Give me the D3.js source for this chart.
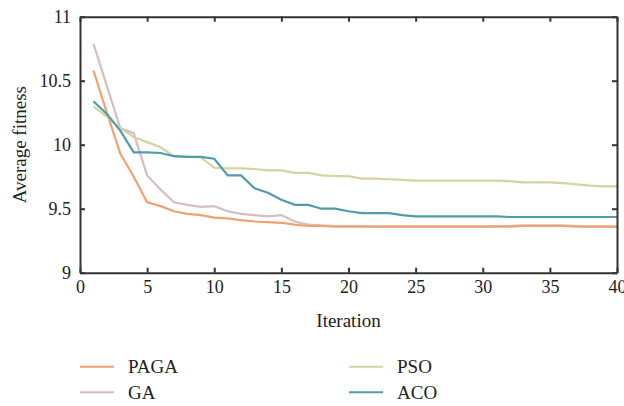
<!DOCTYPE html>
<html>
<head>
<meta charset="utf-8">
<script src="https://cdn.jsdelivr.net/npm/d3@7"></script>
<style>
  body { margin: 0; background: #fff; }
  text { font-family: "Liberation Serif", "DejaVu Serif", serif; fill: #222; }
  .axis path, .axis line { stroke: #333; stroke-width: 2; }
</style>
</head>
<body>
<div id="chart"></div>
<script>
// values
var iterations = d3.range(1, 41);
var paga = [10.58, 10.25, 9.93, 9.75, 9.55, 9.52, 9.48, 9.46, 9.45, 9.43,
            9.425, 9.41, 9.40, 9.395, 9.39, 9.375, 9.365, 9.365, 9.36, 9.36,
            9.36, 9.36, 9.36, 9.36, 9.36, 9.36, 9.36, 9.36, 9.36, 9.36,
            9.36, 9.36, 9.365, 9.365, 9.365, 9.365, 9.36, 9.36, 9.36, 9.36];
var ga = [10.79, 10.46, 10.13, 10.09, 9.76, 9.65, 9.55, 9.53, 9.515, 9.52,
          9.48, 9.46, 9.45, 9.44, 9.45, 9.40, 9.375, 9.37, 9.365, 9.365,
          9.365, 9.36, 9.36, 9.36, 9.36, 9.36, 9.36, 9.36, 9.36, 9.36,
          9.365, 9.365, 9.37, 9.37, 9.37, 9.37, 9.365, 9.36, 9.36, 9.36];
var pso = [10.30, 10.22, 10.13, 10.06, 10.02, 9.98, 9.91, 9.905, 9.90, 9.82,
           9.815, 9.815, 9.81, 9.80, 9.80, 9.78, 9.78, 9.76, 9.755, 9.755,
           9.735, 9.735, 9.73, 9.725, 9.72, 9.72, 9.72, 9.72, 9.72, 9.72,
           9.72, 9.715, 9.705, 9.705, 9.705, 9.70, 9.69, 9.68, 9.675, 9.675];
var aco = [10.34, 10.24, 10.11, 9.94, 9.94, 9.935, 9.91, 9.905, 9.905, 9.89,
           9.76, 9.76, 9.66, 9.625, 9.57, 9.53, 9.53, 9.50, 9.50, 9.48,
           9.465, 9.465, 9.465, 9.45, 9.44, 9.44, 9.44, 9.44, 9.44, 9.44,
           9.44, 9.435, 9.435, 9.435, 9.435, 9.435, 9.435, 9.435, 9.435, 9.435];
var names = ["PAGA", "GA", "PSO", "ACO"];
var colors = ["#f2a16e", "#d4bfc0", "#d6d3a2", "#4f9caa"];
var xTicks = [0, 5, 10, 15, 20, 25, 30, 35, 40];
var yTicks = [9, 9.5, 10, 10.5, 11];

var series = [paga, ga, pso, aco];
var width = 624, height = 406;
var plotL = 80, plotR = 617, plotT = 16.7, plotB = 272.7;

var svg = d3.select("#chart").append("svg")
    .attr("width", width).attr("height", height);

var x = d3.scaleLinear().domain([0, 40]).range([plotL, plotR]);
var y = d3.scaleLinear().domain([9, 11]).range([plotB, plotT]);

// lines first, frame on top
var line = d3.line()
    .x(function(d, i) { return x(iterations[i]); })
    .y(function(d) { return y(d); });

// GA goes under PAGA like in the reference
[1, 0, 2, 3].forEach(function(k) {
    svg.append("path")
        .datum(series[k])
        .attr("fill", "none")
        .attr("stroke", colors[k])
        .attr("stroke-width", 2.2)
        .attr("d", line);
});

var fmt = function(d) { return String(d); };

svg.append("g").attr("class", "axis")
    .attr("transform", "translate(0," + plotB + ")")
    .call(d3.axisBottom(x).tickValues(xTicks).tickFormat(fmt)
        .tickSizeInner(-5).tickSizeOuter(0).tickPadding(8))
    .selectAll("text").attr("font-size", 18);

svg.append("g").attr("class", "axis")
    .attr("transform", "translate(0," + plotT + ")")
    .call(d3.axisTop(x).tickValues(xTicks).tickFormat("")
        .tickSizeInner(-5).tickSizeOuter(0));

svg.append("g").attr("class", "axis")
    .attr("transform", "translate(" + plotL + ",0)")
    .call(d3.axisLeft(y).tickValues(yTicks).tickFormat(fmt)
        .tickSizeInner(-5).tickSizeOuter(0).tickPadding(9))
    .selectAll("text").attr("font-size", 18);

svg.append("g").attr("class", "axis")
    .attr("transform", "translate(" + plotR + ",0)")
    .call(d3.axisRight(y).tickValues(yTicks).tickFormat("")
        .tickSizeInner(-5).tickSizeOuter(0));

svg.selectAll(".axis text")
    .style("font-family", "'Liberation Serif', serif")
    .attr("fill", "#222");

// axis titles
svg.append("text")
    .attr("x", (plotL + plotR) / 2)
    .attr("y", 327)
    .attr("text-anchor", "middle")
    .attr("font-size", 19)
    .text("Iteration");

svg.append("text")
    .attr("transform", "translate(26," + (plotT + plotB) / 2 + ") rotate(-90)")
    .attr("text-anchor", "middle")
    .attr("font-size", 19)
    .text("Average fitness");

// legend, two columns
var legX = [80, 349], legY = [366.7, 392.3];
names.forEach(function(n, k) {
    var lx = legX[Math.floor(k / 2)], ly = legY[k % 2];
    svg.append("line")
        .attr("x1", lx).attr("x2", lx + 34)
        .attr("y1", ly).attr("y2", ly)
        .attr("stroke", colors[k]).attr("stroke-width", 2);
    svg.append("text")
        .attr("x", lx + 48).attr("y", ly + 6.5)
        .attr("font-size", 19)
        .text(n);
});
</script>
</body>
</html>
